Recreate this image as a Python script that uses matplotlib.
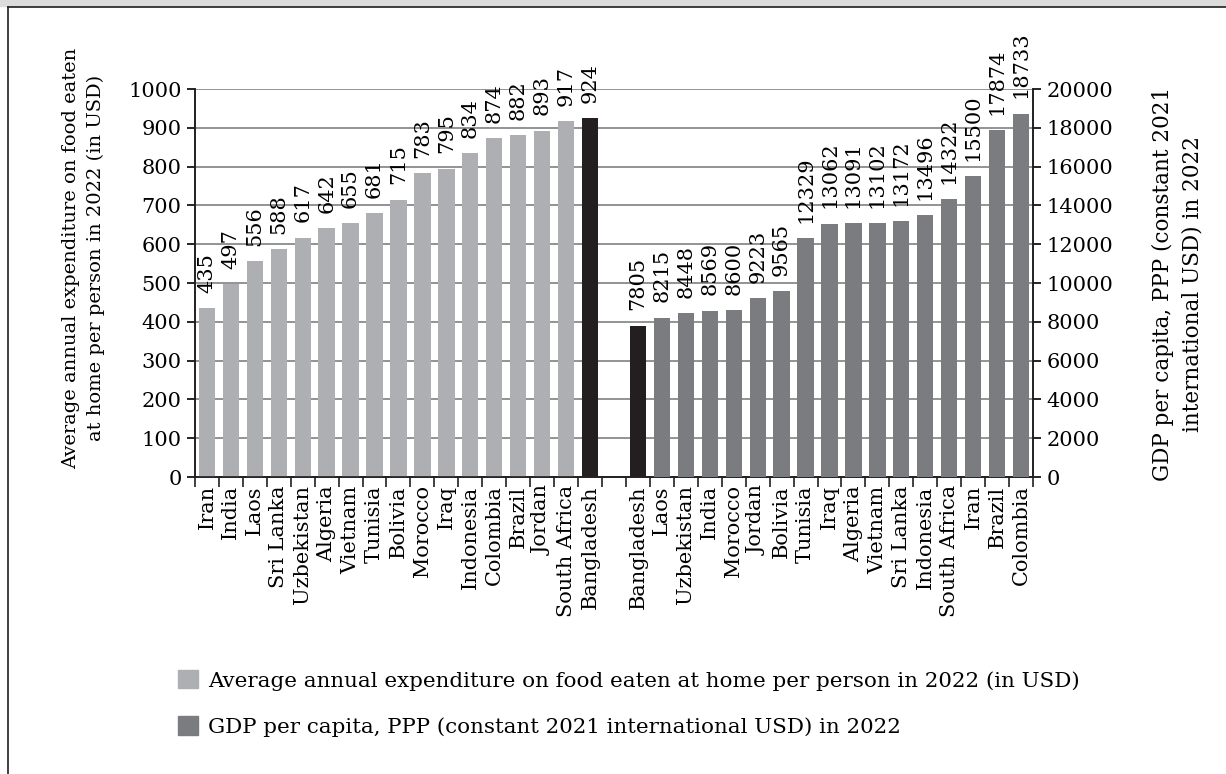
import matplotlib.pyplot as plt
from matplotlib.patches import Patch, Rectangle
from matplotlib.lines import Line2D
import numpy as np

plt.rcParams['font.family'] = ['DejaVu Serif']

food_countries = ["Iran", "India", "Laos", "Sri Lanka", "Uzbekistan", "Algeria", "Vietnam",
                  "Tunisia", "Bolivia", "Morocco", "Iraq", "Indonesia", "Colombia", "Brazil",
                  "Jordan", "South Africa", "Bangladesh"]
food_values = [435, 497, 556, 588, 617, 642, 655, 681, 715, 783, 795, 834, 874, 882, 893, 917, 924]

gdp_countries = ["Bangladesh", "Laos", "Uzbekistan", "India", "Morocco", "Jordan", "Bolivia",
                 "Tunisia", "Iraq", "Algeria", "Vietnam", "Sri Lanka", "Indonesia",
                 "South Africa", "Iran", "Brazil", "Colombia"]
gdp_values = [7805, 8215, 8448, 8569, 8600, 9223, 9565, 12329, 13062, 13091, 13102, 13172,
              13496, 14322, 15500, 17874, 18733]

food_label = "Average annual expenditure on food eaten at home per person in 2022 (in USD)"
gdp_label = "GDP per capita, PPP (constant 2021 international USD) in 2022"

c_food = "#aeafb3"
c_gdp = "#7b7c80"
c_hl = "#231f20"
fs = 15

fig = plt.figure(figsize=(12.26, 7.74), dpi=100)
ax = fig.add_axes([0.159, 0.3837, 0.6836, 0.5013])
ax2 = ax.twinx()

n1 = len(food_values)
x_food = np.arange(n1)
x_gdp = np.arange(len(gdp_values)) + n1 + 1
ntot = n1 + 1 + len(gdp_values)

w = 0.68
cols1 = [c_hl if c == "Bangladesh" else c_food for c in food_countries]
cols2 = [c_hl if c == "Bangladesh" else c_gdp for c in gdp_countries]
ax.bar(x_food, food_values, width=w, color=cols1, zorder=3)
ax2.bar(x_gdp, gdp_values, width=w, color=cols2, zorder=3)

for x, v in zip(x_food, food_values):
    ax.annotate(str(v), (x, v), xytext=(0, 11), textcoords="offset points",
                rotation=90, ha="center", va="bottom", fontsize=fs)
for x, v in zip(x_gdp, gdp_values):
    ax2.annotate(str(v), (x, v), xytext=(0, 11), textcoords="offset points",
                 rotation=90, ha="center", va="bottom", fontsize=fs)

ax.set_xlim(-0.5, ntot - 0.5)
ax.set_ylim(0, 1000)
ax2.set_ylim(0, 20000)
ax.set_yticks(np.arange(0, 1001, 100))
ax2.set_yticks(np.arange(0, 20001, 2000))
ax.grid(axis="y", color="#808080", linewidth=1.2, zorder=0)
ax.set_axisbelow(True)

# category names at the slot centres, tick marks on the slot edges
labels = food_countries + [""] + gdp_countries
ax.set_xticks(np.arange(ntot))
ax.set_xticklabels(labels, rotation=90, fontsize=fs)
ax.set_xticks(np.arange(ntot + 1) - 0.5, minor=True)
ax.tick_params(axis="x", which="major", length=0, pad=6)
ax.tick_params(axis="x", which="minor", length=7, width=1.2, direction="out", color="#231f20")
ax.tick_params(axis="y", length=6, width=1.2, labelsize=fs, direction="out")
ax2.tick_params(axis="y", length=6, width=1.2, labelsize=fs, direction="out")

for a in (ax, ax2):
    a.spines["top"].set_visible(False)
    for s in ("left", "right", "bottom"):
        a.spines[s].set_linewidth(1.2)
        a.spines[s].set_color("#231f20")

fig.text(0.068, 1 - 258 / 774, "Average annual expenditure on food eaten\nat home per person in 2022 (in USD)",
         rotation=90, ha="center", va="center", fontsize=14, linespacing=1.45)
fig.text(0.9605, 1 - 284 / 774, "GDP per capita, PPP (constant 2021\ninternational USD) in 2022",
         rotation=90, ha="center", va="center", fontsize=15.5, linespacing=1.4)

handles = [Patch(color=c_food, label=food_label), Patch(color=c_gdp, label=gdp_label)]
fig.legend(handles=handles, loc="upper left", bbox_to_anchor=(178 / 1226, 1 - 670 / 774),
           frameon=False, fontsize=15.4, handlelength=0.95, handleheight=0.95,
           handletextpad=0.47, labelspacing=1.2, borderpad=0, borderaxespad=0)

# page frame: grey band on top, rule lines top and left
fig.add_artist(Rectangle((0, 1 - 6 / 774), 1, 6 / 774, transform=fig.transFigure,
                         color="#dcdcdc", zorder=0))
fig.add_artist(Line2D([8 / 1226, 1], [1 - 7 / 774, 1 - 7 / 774], transform=fig.transFigure,
                      color="#231f20", linewidth=1.2))
fig.add_artist(Line2D([8 / 1226, 8 / 1226], [0, 1 - 7 / 774], transform=fig.transFigure,
                      color="#231f20", linewidth=1.2))

fig.savefig("out.png", dpi=100)
